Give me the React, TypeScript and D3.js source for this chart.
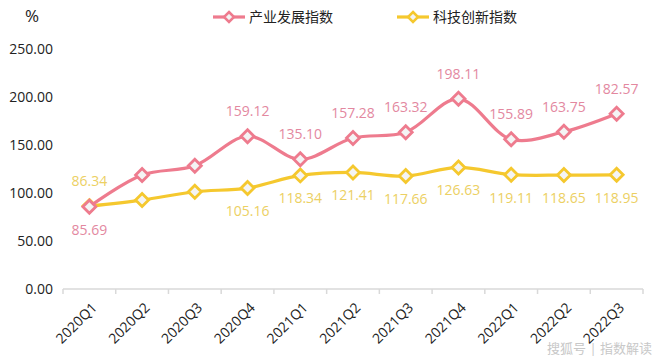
import React, { useEffect, useRef } from "react";
import * as d3 from "d3";

const categories = ["2020Q1", "2020Q2", "2020Q3", "2020Q4", "2021Q1", "2021Q2", "2021Q3", "2021Q4", "2022Q1", "2022Q2", "2022Q3"];
const industryValues = [85.69, 118.7, 128.4, 159.12, 135.1, 157.28, 163.32, 198.11, 155.89, 163.75, 182.57];
const techValues = [86.34, 92.6, 101.3, 105.16, 118.34, 121.41, 117.66, 126.63, 119.11, 118.65, 118.95];
// which points get a value label (the two 2020 Q2/Q3 points have none)
const industryLabelShown = [true, false, false, true, true, true, true, true, true, true, true];
const techLabelShown = [true, false, false, true, true, true, true, true, true, true, true];
const yTicks = [0, 50, 100, 150, 200, 250];

const FONT = "'Open Sans', 'Noto Sans CJK SC', sans-serif";

const App = () => {
  const ref = useRef<SVGSVGElement>(null);

  useEffect(() => {
    document.body.style.margin = "0";
    const svg = d3.select(ref.current);
    svg.selectAll("*").remove();

    const width = 660;
    const height = 360;
    const margin = { top: 49, right: 17, bottom: 71, left: 63 };

    const x = d3.scaleBand().domain(categories).range([margin.left, width - margin.right]);
    const y = d3.scaleLinear().domain([0, 250]).range([height - margin.bottom, margin.top]);
    const cx = (c: string) => (x(c) as number) + x.bandwidth() / 2;

    svg.append("rect").attr("width", width).attr("height", height).attr("fill", "#fff");

    // y axis labels
    const yAxis = svg.append("g");
    yTicks.forEach((t) => {
      yAxis.append("text")
        .attr("x", 53)
        .attr("y", y(t))
        .attr("dy", "0.35em")
        .attr("text-anchor", "end")
        .attr("font-size", 14)
        .attr("fill", "#222")
        .text(t.toFixed(2));
    });

    svg.append("text")
      .attr("x", 32)
      .attr("y", 16)
      .attr("dy", "0.35em")
      .attr("text-anchor", "middle")
      .attr("font-size", 17)
      .attr("fill", "#222")
      .text("%");

    // x axis
    const x0 = y(0);
    const xAxis = svg.append("g");
    xAxis.append("line")
      .attr("x1", margin.left).attr("x2", width - margin.right)
      .attr("y1", x0).attr("y2", x0)
      .attr("stroke", "#d9d9d9").attr("stroke-width", 1.5);
    const boundaries = categories.map((c) => x(c) as number).concat([width - margin.right]);
    boundaries.forEach((b) => {
      xAxis.append("line")
        .attr("x1", b).attr("x2", b)
        .attr("y1", x0).attr("y2", x0 + 5)
        .attr("stroke", "#d9d9d9").attr("stroke-width", 1.5);
    });
    categories.forEach((c) => {
      xAxis.append("text")
        .attr("transform", `translate(${cx(c) + 5},${x0 + 16}) rotate(-45)`)
        .attr("text-anchor", "end")
        .attr("dy", "0.35em")
        .attr("font-size", 14)
        .attr("fill", "#222")
        .text(c);
    });

    const series = [
      { values: techValues, line: "#f5c82e", label: "#ecd063", shown: techLabelShown, below: (i: number) => i !== 0 },
      { values: industryValues, line: "#ee7b8e", label: "#e3889f", shown: industryLabelShown, below: (i: number) => i === 0 },
    ];

    const line = d3.line<number>()
      .x((_, i) => cx(categories[i]))
      .y((d) => y(d))
      .curve(d3.curveCatmullRom.alpha(0.5));

    const diamond = (g: d3.Selection<SVGGElement, unknown, null, undefined>, px: number, py: number, color: string) => {
      const r = 6.5;
      g.append("path")
        .attr("d", `M${px},${py - r}L${px + r},${py}L${px},${py + r}L${px - r},${py}Z`)
        .attr("fill", "#f4f4f4")
        .attr("stroke", color)
        .attr("stroke-width", 2.8);
    };

    series.forEach((s) => {
      const g = svg.append("g");
      g.append("path")
        .datum(s.values)
        .attr("d", line)
        .attr("fill", "none")
        .attr("stroke", s.line)
        .attr("stroke-width", 3.2);
      s.values.forEach((v, i) => diamond(g as any, cx(categories[i]), y(v), s.line));
    });

    series.forEach((s) => {
      s.values.forEach((v, i) => {
        if (!s.shown[i]) return;
        const below = s.below(i);
        svg.append("text")
          .attr("x", cx(categories[i]))
          .attr("y", y(v) + (below ? 23 : -25))
          .attr("dy", "0.35em")
          .attr("text-anchor", "middle")
          .attr("font-size", 14)
          .attr("fill", s.label)
          .text(v.toFixed(2));
      });
    });

    // legend
    const legendItems = [
      { name: "产业发展指数", color: "#ee7b8e", x: 213 },
      { name: "科技创新指数", color: "#f5c82e", x: 397 },
    ];
    legendItems.forEach((it) => {
      const g = svg.append("g");
      g.append("line")
        .attr("x1", it.x).attr("x2", it.x + 32)
        .attr("y1", 17).attr("y2", 17)
        .attr("stroke", it.color).attr("stroke-width", 3.2);
      const r = 5;
      const mx = it.x + 16;
      g.append("path")
        .attr("d", `M${mx},${17 - r}L${mx + r},17L${mx},${17 + r}L${mx - r},17Z`)
        .attr("fill", "#f4f4f4")
        .attr("stroke", it.color)
        .attr("stroke-width", 2.5);
      g.append("text")
        .attr("x", it.x + 36)
        .attr("y", 17)
        .attr("dy", "0.35em")
        .attr("font-size", 14)
        .attr("fill", "#222")
        .text(it.name);
    });

    // watermark
    svg.append("text")
      .attr("x", 652)
      .attr("y", 348)
      .attr("dy", "0.35em")
      .attr("text-anchor", "end")
      .attr("font-size", 13)
      .attr("fill", "#c8c8c8")
      .text("搜狐号 | 指数解读");
  }, []);

  return (
    <svg
      ref={ref}
      width={660}
      height={360}
      style={{ display: "block", fontFamily: FONT }}
    />
  );
};

export default App;
